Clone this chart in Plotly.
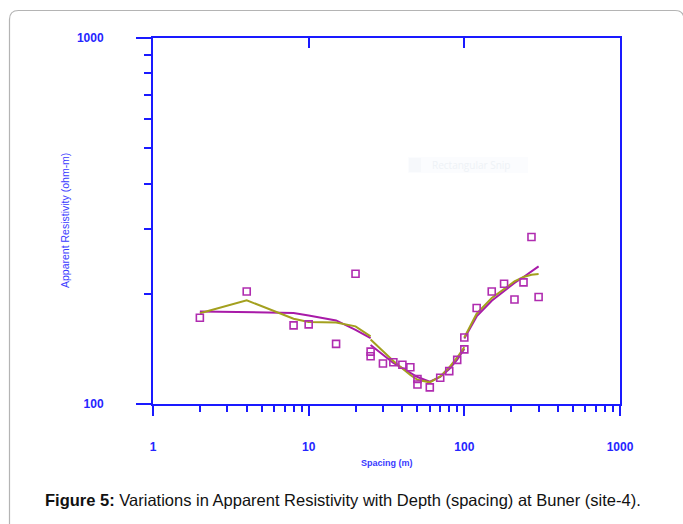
import plotly.graph_objects as go

# ---------------- data ----------------
spacing = [2, 4, 8, 10, 15, 20, 25, 25, 30, 35, 40, 45, 50, 50, 60, 70, 80, 90,
           100, 100, 120, 150, 180, 210, 240, 270, 300]
rho_obs = [172, 203, 164, 165, 146, 227, 139, 135, 129, 130, 128, 126, 117, 113,
           111, 118, 123, 132, 141, 152, 183, 203, 213, 193, 215, 286, 196]

seg1_x = [2, 4, 8, 10, 15, 20, 25]
seg2_x = [25, 30, 35, 40, 45, 50, 60, 70, 80, 90, 100]
seg3_x = [100, 120, 150, 180, 210, 240, 270, 300]

olive_seg1 = [177, 192, 171, 167.5, 167, 163, 153]
olive_seg2 = [150, 139, 131, 125, 120, 116.5, 114.6, 119, 126, 134, 143]
olive_seg3 = [152, 176.5, 194.8, 206.2, 216.3, 222.3, 225.5, 226.5]

magenta_seg1 = [179, 178.4, 177.3, 174.6, 169.2, 159.5, 151.4]
magenta_seg2 = [145, 136.4, 129.4, 125.4, 121.5, 118.5, 115.1, 118.5, 124.6, 132.1, 141.3]
magenta_seg3 = [151, 173.5, 191.5, 204, 214.1, 222.3, 230.3, 237.7]

x_ticks = [1, 10, 100, 1000]
x_ticktext = ["1", "10", "100", "1000"]
x_minor = [2, 3, 4, 5, 6, 7, 8, 9, 20, 30, 40, 50, 60, 70, 80, 90,
           200, 300, 400, 500, 600, 700, 800, 900]
y_ticks = [100, 1000]
y_ticktext = ["100", "1000"]
y_minor = [200, 300, 400, 500, 600, 700, 800, 900]

caption = "<b>Figure 5:</b> Variations in Apparent Resistivity with Depth (spacing) at Buner (site-4)."
y_title = "Apparent Resistivity (ohm-m)"
x_title = "Spacing (m)"

# ---------------- styling ----------------
W, H = 683, 524
ML, MR, MT, MB = 153, 63, 38, 120
PW, PH = W - ML - MR, H - MT - MB
BLUE = "#1a1aff"
LBLUE = "#3a3aff"
MAG = "#a81aa8"
OLIVE = "#a3a01e"


def px(xp):
    return (xp - ML) / PW


def py(yp):
    return (H - MB - yp) / PH


def join(*segs):
    xs, ys = [], []
    for sx, sy in segs:
        xs += list(sx) + [None]
        ys += list(sy) + [None]
    return xs, ys


fig = go.Figure()

ox, oy = join((seg1_x, olive_seg1), (seg2_x, olive_seg2), (seg3_x, olive_seg3))
mx, my = join((seg1_x, magenta_seg1), (seg2_x, magenta_seg2), (seg3_x, magenta_seg3))

fig.add_trace(go.Scatter(x=mx, y=my, mode="lines", line=dict(color=MAG, width=2),
                         connectgaps=False, showlegend=False, hoverinfo="skip"))
fig.add_trace(go.Scatter(x=ox, y=oy, mode="lines", line=dict(color=OLIVE, width=2),
                         connectgaps=False, showlegend=False, hoverinfo="skip"))
fig.add_trace(go.Scatter(x=spacing, y=rho_obs, mode="markers",
                         marker=dict(symbol="square-open", size=7, color="#b02cb0",
                                     line=dict(width=1.6, color="#b02cb0")),
                         showlegend=False))
# invisible trace to carry the top tick axis
fig.add_trace(go.Scatter(x=[None], y=[None], xaxis="x2", showlegend=False))

# frame around the figure (rounded corners)
l, t, r, b, rad = 9.5, 10.5, 684, 540, 9
path = (f"M {px(r)},{py(b)} L {px(r)},{py(t + rad)} Q {px(r)},{py(t)} {px(r - rad)},{py(t)} "
        f"L {px(l + rad)},{py(t)} Q {px(l)},{py(t)} {px(l)},{py(t + rad)} L {px(l)},{py(b)}")
shapes = [dict(type="path", xref="paper", yref="paper", path=path,
               line=dict(color="#b4b4b4", width=1.2), layer="below"),
          dict(type="rect", xref="paper", yref="paper",
               x0=px(408), x1=px(528), y0=py(157), y1=py(173),
               fillcolor="#fbfcfe", line=dict(width=0), layer="below"),
          dict(type="rect", xref="paper", yref="paper",
               x0=px(409), x1=px(421), y0=py(158), y1=py(172),
               fillcolor="#f6f8fb", line=dict(width=0), layer="below")]

annotations = [
    dict(text=caption, xref="paper", yref="paper", x=px(343), y=py(500),
         showarrow=False, xanchor="center", yanchor="middle",
         font=dict(family="Liberation Sans Narrow, Arial Narrow, Liberation Sans, Arial", size=16.5, color="#111111")),
    dict(text=y_title, xref="paper", yref="paper", x=px(65), y=py(221),
         showarrow=False, textangle=-90, xanchor="center", yanchor="middle",
         font=dict(family="Liberation Sans, Arial", size=10.5, color=LBLUE)),
    dict(text=x_title, xref="paper", yref="paper", x=px(387), y=py(463),
         showarrow=False, xanchor="center", yanchor="middle",
         font=dict(family="Liberation Sans, Arial", size=9, color=LBLUE, weight="bold")),
    dict(text="Rectangular Snip", xref="paper", yref="paper", x=px(430), y=py(165),
         showarrow=False, xanchor="left", yanchor="middle",
         font=dict(family="Open Sans, Liberation Sans", size=10, color="#eef2f6")),
]

axis_common = dict(showgrid=False, zeroline=False, showline=True, linecolor=BLUE,
                   linewidth=2, mirror=True, ticks="outside", tickcolor=BLUE, tickwidth=2,
                   tickfont=dict(family="Liberation Sans, Arial", size=12, color="#2525ff",
                                 weight="bold"))

fig.update_layout(
    width=W, height=H,
    margin=dict(l=ML, r=MR, t=MT, b=MB, pad=0),
    paper_bgcolor="white", plot_bgcolor="white",
    xaxis=dict(type="log", range=[0, 3], tickvals=x_ticks, ticktext=x_ticktext,
               ticklen=10, ticklabelstandoff=21,
               minor=dict(tickvals=x_minor, ticks="outside", ticklen=6,
                          tickwidth=2, tickcolor=BLUE, showgrid=False),
               **axis_common),
    xaxis2=dict(type="log", range=[0, 3], overlaying="x", side="top", anchor="y",
                tickvals=[10, 100], ticks="inside", ticklen=10, tickwidth=2,
                tickcolor=BLUE, showticklabels=False, showline=False,
                showgrid=False, zeroline=False),
    yaxis=dict(type="log", range=[2, 3], tickvals=y_ticks, ticktext=y_ticktext,
               ticklen=15, ticklabelstandoff=30,
               minor=dict(tickvals=y_minor, ticks="outside", ticklen=7,
                          tickwidth=2, tickcolor=BLUE, showgrid=False),
               **axis_common),
    shapes=shapes,
    annotations=annotations,
)

fig.write_html("out.html")
